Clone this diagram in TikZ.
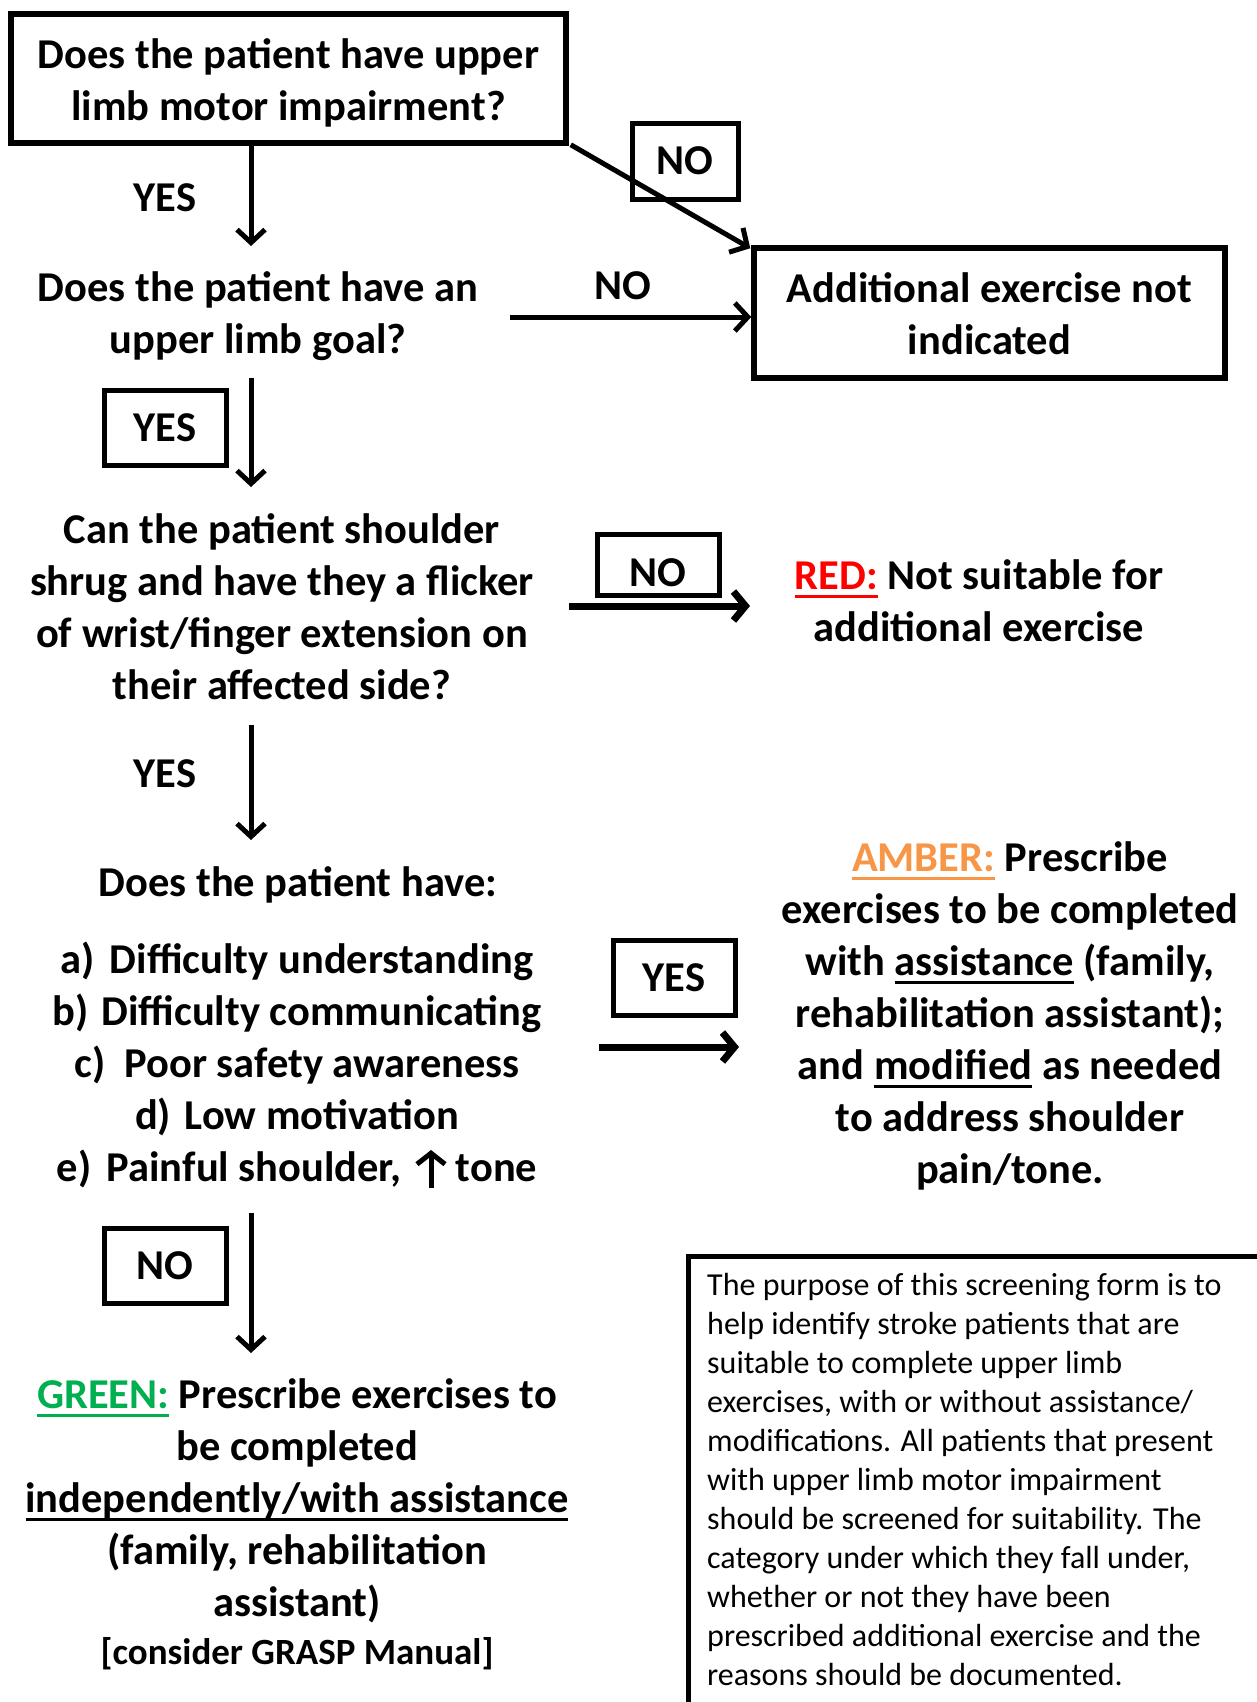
\documentclass[tikz,border=0pt]{standalone}
\usepackage{fontspec}
\setmainfont{Carlito}
\usetikzlibrary{arrows.meta}
\definecolor{redc}{HTML}{FF0000}
\definecolor{amberc}{HTML}{F79646}
\definecolor{greenc}{HTML}{00B050}
\newcommand{\myul}[1]{\setbox0\hbox{#1}\rlap{\rule[-0.2em]{\wd0}{0.07em}}\box0\relax}
\begin{document}
\begin{tikzpicture}[x=1pt,y=-1pt,
  big/.style={font=\fontsize{42.5}{52}\selectfont\bfseries, align=center, inner sep=0pt},
  qbox/.style={draw, line width=5.5pt, inner sep=0pt},
  labbox/.style={draw, line width=5pt, inner sep=0pt},
  arr/.style={line width=5pt, -{Straight Barb[length=13pt,width=28pt]}},
  thickarr/.style={line width=7pt, -{Straight Barb[length=12pt,width=29pt]}},
  uparr/.style={line width=5pt, -{Straight Barb[length=11pt,width=28pt]}},
  info/.style={font=\fontsize{32}{39}\selectfont, align=left, inner sep=0pt}]
\useasboundingbox[fill=white] (0,0) rectangle (1256,1702);

% question 1 box
\node[qbox, minimum width=555pt, minimum height=129pt] (q1) at (288.5,78.5) {};
\node[big] (q1text) at (288.5,83) {Does the patient have upper\\limb motor impairment?};
% not indicated box
\node[qbox, minimum width=471pt, minimum height=130pt] (notind) at (989.5,313) {};
\node[big] (notindtext) at (989.5,314) {Additional exercise not\\indicated};

% question 2
\node[big] (q2) at (258,316) {Does the patient have an\\upper limb goal?};
% question 3
\node[big] (q3) at (282,607) {Can the patient shoulder\\shrug and have they a flicker\\of wrist/finger extension on\\their affected side?};
% RED
\node[big] (red) at (979,601) {\textcolor{redc}{\myul{RED:}} Not suitable for\\additional exercise};
% question 4
\node[big] (q4) at (298,885) {Does the patient have:};
\node[big] (q4list) at (297,1064.5) {a)\hspace{0.36em}Difficulty understanding\\b)\hspace{0.3em}Difficulty communicating\\c)\hspace{0.45em}Poor safety awareness\\d)\hspace{0.32em}Low motivation\\e)\hspace{0.36em}Painful shoulder,\hspace{54pt}tone};
\coordinate (upbot) at (431,1188);
\coordinate (uptop) at (431,1150);
\draw[uparr] (upbot) -- (uptop);
% AMBER
\node[big] (amber) at (1010,1016) {\textcolor{amberc}{\myul{AMBER:}} Prescribe\\exercises to be completed\\with \myul{assistance} (family,\\rehabilitation assistant);\\and \myul{modified} as needed\\to address shoulder\\pain/tone.};
% GREEN
\node[big] (green) at (297,1501) {\textcolor{greenc}{\myul{GREEN:}} Prescribe exercises to\\be completed\\\myul{independently/with assistance}\\(family, rehabilitation\\assistant)};
\node[big, font=\fontsize{37}{44}\selectfont\bfseries] (grasp) at (297,1654) {[consider GRASP Manual]};

% info box
\node[draw, line width=5pt, anchor=north west, minimum width=640pt, minimum height=520pt] (infobox) at (686,1254) {};
\node[info, anchor=north west] (infotext) at (707,1273) {The purpose of this screening form is to\\help identify stroke patients that are\\suitable to complete upper limb\\exercises, with or without assistance/\\modifications. All patients that present\\with upper limb motor impairment\\should be screened for suitability. The\\category under which they fall under,\\whether or not they have been\\prescribed additional exercise and the\\reasons should be documented.};

% coordinates for arrow ends
\coordinate (a1e) at (251,246);
\coordinate (a2s) at (251,378);
\coordinate (a2e) at (251,487);
\coordinate (a3s) at (251,725);
\coordinate (a3e) at (251,840);
\coordinate (a4s) at (251,1213);
\coordinate (a4e) at (251,1353);
\coordinate (n2s) at (510,317);
\coordinate (n3s) at (569,606);
\coordinate (n3e) at (750,606);
\coordinate (y4s) at (599,1047);
\coordinate (y4e) at (739,1047);

% arrows
\draw[arr] (q1.south -| a1e) -- (a1e);
\draw[arr] ([xshift=2pt,yshift=1pt]q1.south east) -- ([xshift=-1pt,yshift=-3pt]notind.north west);
\draw[arr] (n2s) -- (notind.west |- n2s);
\draw[arr] (a2s) -- (a2e);
\draw[thickarr] (n3s) -- (n3e);
\draw[arr] (a3s) -- (a3e);
\draw[thickarr] (y4s) -- (y4e);
\draw[arr] (a4s) -- (a4e);

% labels
\node[big] (yes1) at (165,198) {YES};
\node[labbox, minimum width=106pt, minimum height=76pt] (no1) at (685,161) {};
\node[big] (no1text) at (685,161) {NO};
\node[big] (no2) at (623,286) {NO};
\node[labbox, minimum width=122pt, minimum height=75pt] (yes2) at (165,427.5) {};
\node[big] (yes2text) at (165,427.5) {YES};
\node[labbox, minimum width=122pt, minimum height=61pt] (no3) at (658,564.5) {};
\node[big] (no3text) at (658,573) {NO};
\node[big] (yes3) at (165,774) {YES};
\node[labbox, minimum width=122pt, minimum height=75pt] (yes4) at (674,977.5) {};
\node[big] (yes4text) at (674,977.5) {YES};
\node[labbox, minimum width=122pt, minimum height=75pt] (no4) at (165,1265.5) {};
\node[big] (no4text) at (165,1265.5) {NO};
\end{tikzpicture}
\end{document}
